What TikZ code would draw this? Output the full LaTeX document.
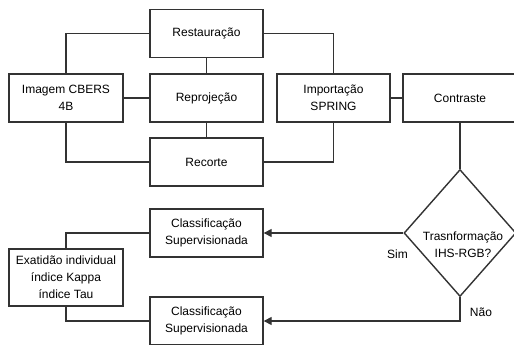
\documentclass[tikz,border=0pt]{standalone}
\usepackage{fontspec}
\setmainfont{Liberation Sans}
\usetikzlibrary{shapes.geometric,arrows.meta}
\begin{document}
\begin{tikzpicture}[x=1pt,y=-1pt,
  line width=1.4pt,
  every node/.style={font=\fontsize{12}{17}\selectfont},
  stepbox/.style={draw=black!80, line width=1.4pt, minimum width=113pt, minimum height=48pt, inner sep=0pt, align=center},
  conn/.style={draw=black!80, line width=1.4pt},
  arr/.style={conn, -{Triangle[length=8pt,width=8pt]}}]
\useasboundingbox (0,0) rectangle (514,345);
\node[stepbox] (rest) at (206.5,33.5) {Restauração};
\node[stepbox] (repr) at (206.5,98) {Reprojeção};
\node[stepbox] (rec) at (206.5,162) {Recorte};
\node[stepbox, minimum width=114pt] (img) at (66,98) {Imagem CBERS\\4B};
\node[stepbox] (imp) at (333.5,98) {Importação\\SPRING};
\node[stepbox, minimum width=114pt] (con) at (460,98) {Contraste};
\node[diamond, draw=black!80, line width=1.4pt, minimum width=112pt, minimum height=127pt, inner sep=0pt] (dia) at (460,233) {};
\node[align=center] (diat) at (463,245) {Trasnformação\\IHS-RGB?};
\node[stepbox] (c1) at (206.5,233) {Classificação\\Supervisionada};
\node[stepbox] (c2) at (206.5,321) {Classificação\\Supervisionada};
\node[stepbox, minimum width=114pt, minimum height=57pt] (exa) at (66,277.5) {Exatidão individual\\índice Kappa\\índice Tau};
\node (sim) at (397.5,254) {Sim};
\node (nao) at (481,312) {Não};
\draw[conn] (img.north) |- (rest.west);
\draw[conn] (img.east) -- (repr.west);
\draw[conn] (img.south) |- (rec.west);
\draw[conn] (rest.south) -- (repr.north);
\draw[conn] (repr.south) -- (rec.north);
\draw[conn] (rest.east) -| (imp.north);
\draw[conn] (rec.east) -| (imp.south);
\draw[conn] (imp.east) -- (con.west);
\draw[conn] (con.south) -- (dia.north);
\draw[arr] (dia.west) -- (c1.east);
\draw[arr] (dia.south) |- (c2.east);
\draw[conn] (exa.north) |- (c1.west);
\draw[conn] (exa.south) |- (c2.west);
\end{tikzpicture}
\end{document}
